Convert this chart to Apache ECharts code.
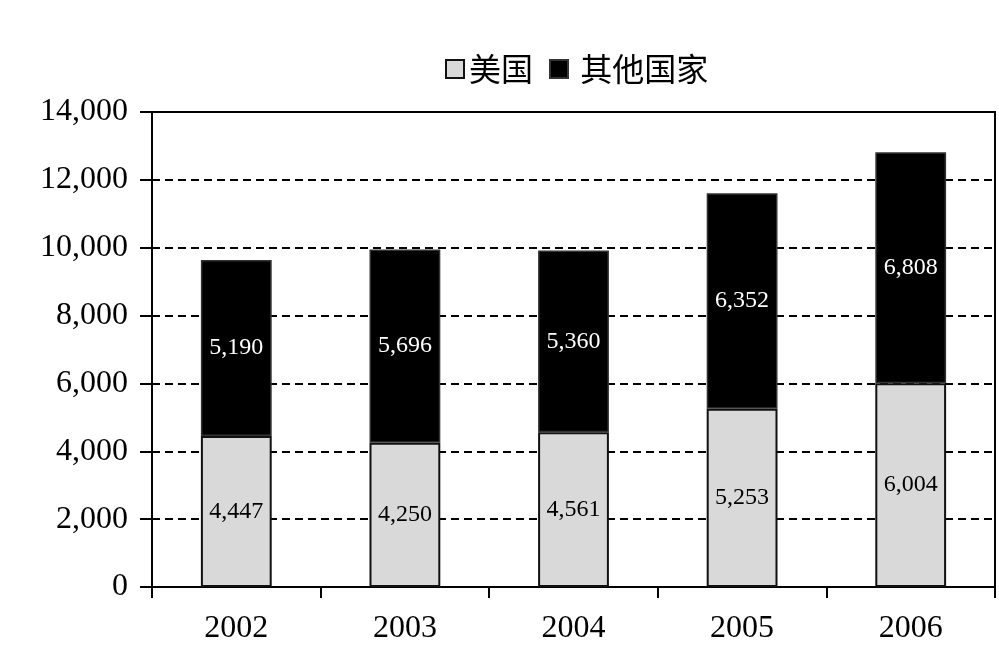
<!DOCTYPE html>
<html>
<head>
<meta charset="utf-8">
<script src="https://cdn.jsdelivr.net/npm/echarts@6/dist/echarts.min.js"></script>
<style>html,body{margin:0;padding:0;background:#fff;}#c{width:999px;height:656px;}</style>
</head>
<body>
<div id="c"></div>
<script>
var categories = ['2002', '2003', '2004', '2005', '2006'];
var usValues = [4447, 4250, 4561, 5253, 6004];
var otherValues = [5190, 5696, 5360, 6352, 6808];
var seriesNames = ['美国', '其他国家'];
var yTicks = { min: 0, max: 14000, interval: 2000 };

var chart = echarts.init(document.getElementById('c'));
var serif = '"Liberation Serif", "Times New Roman", serif';
chart.setOption({
  animation: false,
  backgroundColor: '#fff',
  legend: {
    left: 440, top: 48,
    itemWidth: 18, itemHeight: 18, itemGap: 16,
    icon: 'rect',
    textStyle: { fontFamily: '"Noto Sans CJK SC", sans-serif', fontSize: 32, color: '#000' },
    formatter: function (name) { return name === seriesNames[1] ? ' ' + name : name; },
    data: seriesNames
  },
  grid: {
    left: 152, right: 4, top: 112, bottom: 69,
    show: true, borderColor: '#000', borderWidth: 2, backgroundColor: 'transparent'
  },
  xAxis: {
    type: 'category',
    data: categories,
    boundaryGap: true,
    axisLine: { show: true, lineStyle: { color: '#000', width: 2 } },
    axisTick: { show: true, alignWithLabel: false, length: 11, lineStyle: { color: '#000', width: 2 } },
    axisLabel: { fontFamily: serif, fontSize: 32, color: '#000', margin: 26 }
  },
  yAxis: {
    type: 'value',
    min: yTicks.min, max: yTicks.max, interval: yTicks.interval,
    axisLine: { show: true, lineStyle: { color: '#000', width: 2 } },
    axisTick: { show: true, length: 12, lineStyle: { color: '#000', width: 2 } },
    axisLabel: {
      fontFamily: serif, fontSize: 32, color: '#000', margin: 24,
      formatter: function (v) { return v.toLocaleString('en-US'); }
    },
    splitLine: { show: true, lineStyle: { color: '#000', width: 2, type: [8, 5] } }
  },
  series: [
    {
      name: seriesNames[0], type: 'bar', stack: 'total', barWidth: '42%',
      data: usValues,
      itemStyle: { color: '#d9d9d9', borderColor: '#111', borderWidth: 2 },
      label: {
        show: true, position: 'inside', color: '#000', fontFamily: serif, fontSize: 24,
        formatter: function (p) { return p.value.toLocaleString('en-US'); }
      }
    },
    {
      name: seriesNames[1], type: 'bar', stack: 'total', barWidth: '42%',
      data: otherValues,
      itemStyle: { color: '#000', borderColor: '#333', borderWidth: 1.5 },
      label: {
        show: true, position: 'inside', color: '#fff', fontFamily: serif, fontSize: 24,
        formatter: function (p) { return p.value.toLocaleString('en-US'); }
      }
    }
  ]
});
</script>
</body>
</html>
